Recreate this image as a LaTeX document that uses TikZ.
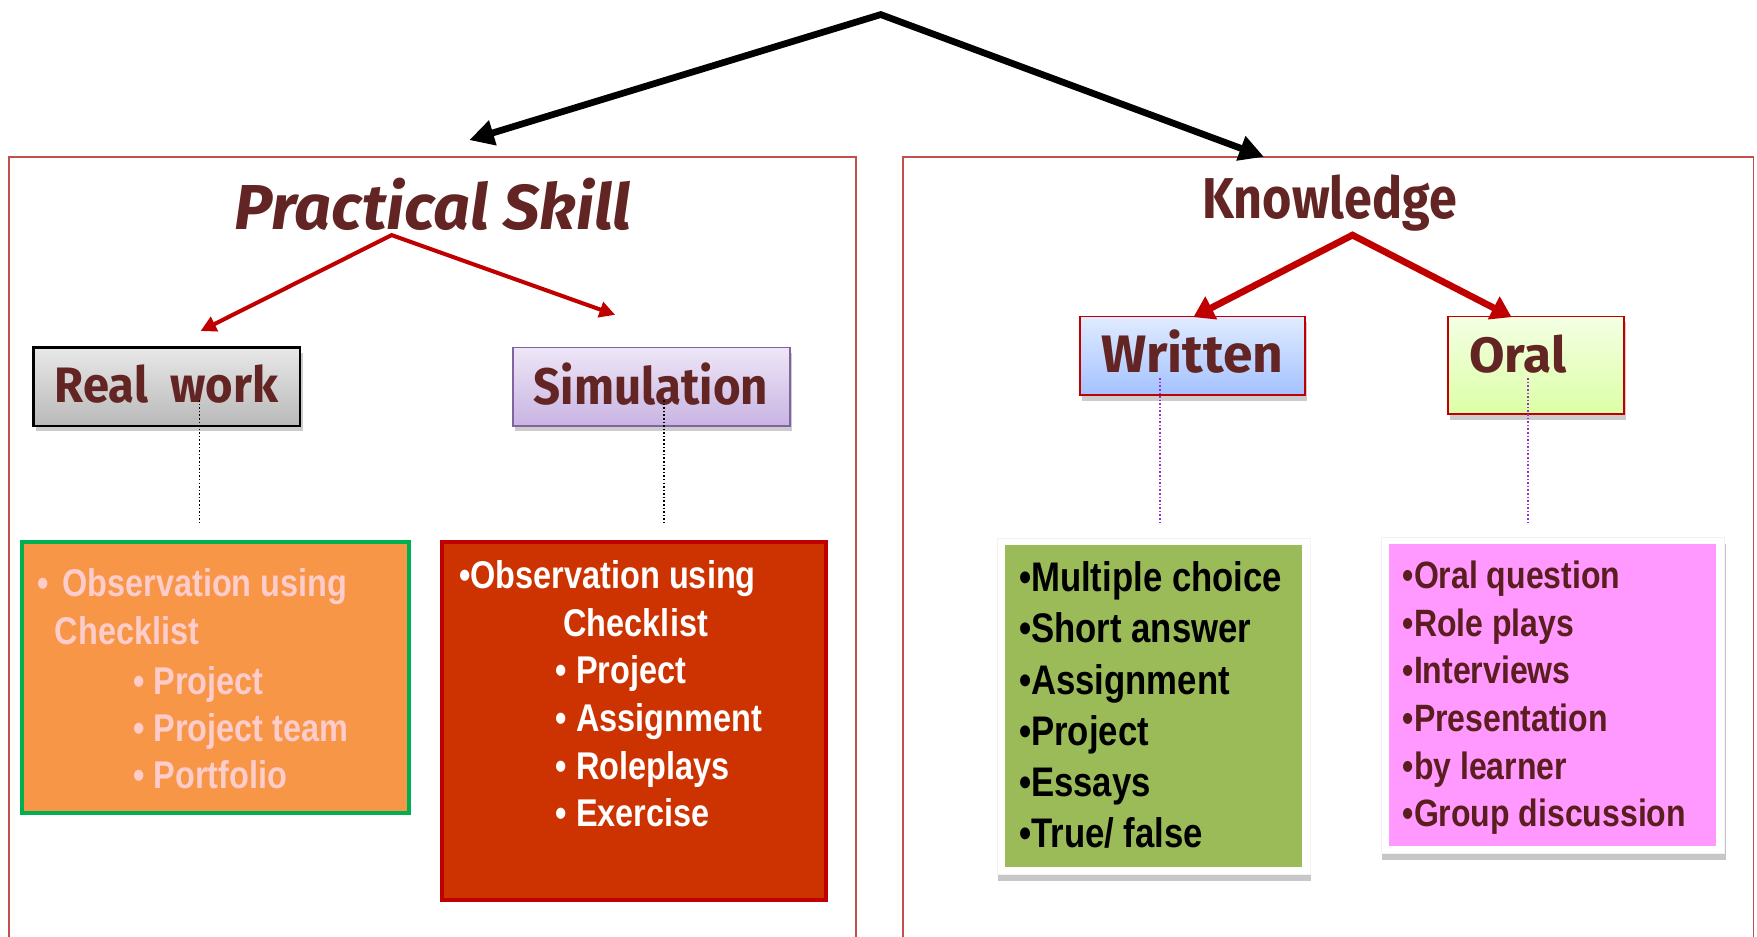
\documentclass[tikz,border=0pt]{standalone}
\usepackage{fontspec}
\usepackage{graphicx}
\setmainfont{Liberation Sans}
\newfontfamily\bodyfont[FakeStretch=0.84]{Liberation Sans}
\newfontfamily\headfont{Fira Sans}
\usetikzlibrary{arrows.meta,shadows}
\definecolor{headbrown}{HTML}{632523}
\definecolor{framered}{HTML}{C0504D}
\definecolor{arrowred}{HTML}{C00000}
\definecolor{orangefill}{HTML}{F79646}
\definecolor{greenedge}{HTML}{00B050}
\definecolor{pinktext}{HTML}{FFCCCC}
\definecolor{rustfill}{HTML}{CC3300}
\definecolor{olivefill}{HTML}{9BBB59}
\definecolor{pinkfill}{HTML}{FF99FF}
\definecolor{violetedge}{HTML}{8064A2}
\definecolor{dotviolet}{HTML}{9933CC}
\definecolor{darktext}{HTML}{5A1E1E}
\newcommand\fitto[4]{\resizebox{#1}{#2}{\smash{#4}\vphantom{#3}}}
\tikzset{
  frameline/.style={draw=framered, line width=0.7pt},
  bigarrow/.style={line width=3pt, line join=miter, black,
    {Triangle[length=11pt,width=11pt]}-{Triangle[length=11pt,width=11pt]}},
  thinred/.style={line width=1.8pt, line join=miter, arrowred,
    {Triangle[length=7pt,width=7pt]}-{Triangle[length=7pt,width=7pt]}},
  thickred/.style={line width=3pt, line join=miter, arrowred,
    {Triangle[length=9pt,width=11pt]}-{Triangle[length=9pt,width=11pt]}},
  headtxt/.style={inner sep=0pt, anchor=base west, text=headbrown, font=\headfont\bfseries},
  headbox/.style={rectangle, inner sep=0pt, anchor=center,
    drop shadow={shadow xshift=1pt, shadow yshift=-2.5pt, opacity=0.2, fill=black}},
  cbox/.style={rectangle, inner sep=0pt, anchor=north west},
  line/.style={inner sep=0pt, anchor=base west, font=\bodyfont\bfseries\fontsize{17.25pt}{20pt}\selectfont},
  gline/.style={line, font=\bodyfont\bfseries\fontsize{18.45pt}{21pt}\selectfont, text=black},
  pline/.style={line, font=\bodyfont\bfseries\fontsize{17pt}{20pt}\selectfont, text=darktext},
  dotblack/.style={black, line width=0.8pt, dash pattern=on 0.7pt off 0.9pt},
  dotpurple/.style={dotviolet, line width=0.8pt, dash pattern=on 0.7pt off 0.9pt},
}
\begin{document}
\begin{tikzpicture}[x=0.5pt,y=-0.5pt]
\useasboundingbox (0,0) rectangle (1568,836);
\fill[white] (0,0) rectangle (1568,836);

% big frames
\draw[frameline] (8,838) -- (8,140) -- (764,140) -- (764,838);
\draw[frameline] (806,838) -- (806,140) -- (1565,140) -- (1565,838);

% black top arrows
\coordinate (topApex) at (786,13);
\coordinate (leftTip) at (418.8,125);
\coordinate (rightTip) at (1128,140);
\draw[bigarrow] (leftTip) -- (topApex) -- (rightTip);

% titles
\node[headtxt] (ps) at (209,205) {\fitto{177pt}{21.5pt}{l}{\itshape Practical Skill}};
\node[headtxt] (kn) at (1072.4,195) {\fitto{113.6pt}{19.5pt}{l}{Knowledge}};

% header boxes
\node[headbox, draw=black, line width=1pt, top color=gray!18, bottom color=gray!55,
  minimum width=119pt, minimum height=34.85pt] (rw) at (149,345) {};
\node[headbox, draw=violetedge, line width=0.8pt, top color={rgb,255:red,238;green,230;blue,247},
  bottom color={rgb,255:red,200;green,180;blue,226},
  minimum width=123.5pt, minimum height=34.85pt] (sim) at (581.5,345) {};
\node[headbox, draw=arrowred, line width=0.8pt, top color={rgb,255:red,224;green,235;blue,255},
  bottom color={rgb,255:red,164;green,194;blue,255},
  minimum width=100.4pt, minimum height=35pt] (wr) at (1064.4,317.5) {};
\node[headbox, draw=arrowred, line width=0.8pt, top color={rgb,255:red,244;green,255;blue,228},
  bottom color={rgb,255:red,220;green,255;blue,166},
  minimum width=78.6pt, minimum height=43.5pt] (or) at (1370.6,326) {};

\node[headtxt] (rwT) at (48.6,359.5) {\fitto{99.7pt}{16.85pt}{l}{Real\ \ work}};
\node[headtxt] (simT) at (476,360.6) {\fitto{104.5pt}{17.4pt}{l}{Simulation}};
\node[headtxt] (wrT) at (982.6,332.6) {\fitto{81.1pt}{16.3pt}{W}{Written}};
\node[headtxt] (orT) at (1310.6,332.6) {\fitto{43.4pt}{16.8pt}{l}{Oral}};

% red arrows
\coordinate (psApex) at (349.5,209.8);
\coordinate (rwTip) at (179,295.4);
\coordinate (simTip) at (549,281);
\draw[thinred] (rwTip) -- (psApex) -- (simTip);
\coordinate (knApex) at (1207,209.8);
\coordinate (wrTip) at (1065,283);
\coordinate (orTip) at (1349,283);
\draw[thickred] (wrTip) -- (knApex) -- (orTip);

% dotted connectors
\coordinate (rwD) at (178,357);   \coordinate (rwE) at (178,467);
\coordinate (simD) at (592.4,357); \coordinate (simE) at (592.4,467);
\coordinate (wrD) at (1035,337.5); \coordinate (wrE) at (1035,467);
\coordinate (orD) at (1363.5,337.5); \coordinate (orE) at (1363.5,467);
\draw[dotblack] (rwD) -- (rwE);
\draw[dotblack] (simD) -- (simE);
\draw[dotpurple] (wrD) -- (wrE);
\draw[dotpurple] (orD) -- (orE);

% content boxes
\node[cbox, fill=orangefill, draw=greenedge, line width=1.8pt,
  minimum width=172.7pt, minimum height=121pt] (obsA) at (17.8,481.8) {};
\node[cbox, fill=rustfill, draw=arrowred, line width=1.8pt,
  minimum width=171pt, minimum height=159.5pt] (obsB) at (393,482) {};
\node[cbox, fill=white, draw=gray!10, line width=0.4pt,
  drop shadow={shadow xshift=0.5pt, shadow yshift=-3pt, opacity=0.22, fill=black},
  minimum width=139.7pt, minimum height=150pt] (wfr) at (889.5,480) {};
\node[cbox, fill=olivefill, minimum width=132.45pt, minimum height=143.55pt] (wlist) at (896.7,486.4) {};
\node[cbox, fill=white, draw=gray!10, line width=0.4pt,
  drop shadow={shadow xshift=0.5pt, shadow yshift=-3pt, opacity=0.22, fill=black},
  minimum width=153.3pt, minimum height=141.25pt] (ofr) at (1232,479) {};
\node[cbox, fill=pinkfill, minimum width=146.05pt, minimum height=134.75pt] (olist) at (1239.2,485.5) {};

% orange box text
\node[line, text=pinktext] (a1) at (33.5,532) {•\hspace{5.8pt}Observation using};
\node[line, text=pinktext] (a2) at (48.5,575.6) {Checklist};
\node[line, text=pinktext] (a3) at (118.5,619.4) {• Project};
\node[line, text=pinktext] (a4) at (118.5,662) {• Project team};
\node[line, text=pinktext] (a5) at (118.5,704) {• Portfolio};

% red box text
\node[line, text=white] (b1) at (409.5,525) {•Observation using};
\node[line, text=white] (b2) at (502.5,567.6) {Checklist};
\node[line, text=white] (b3) at (495.5,610.4) {• Project};
\node[line, text=white] (b4) at (495.5,653) {• Assignment};
\node[line, text=white] (b5) at (495.5,695.5) {• Roleplays};
\node[line, text=white] (b6) at (495.5,738) {• Exercise};

% green box text
\node[gline] (c1) at (909,528) {•Multiple choice};
\node[gline] (c2) at (909,573.6) {•Short answer};
\node[gline] (c3) at (909,619.4) {•Assignment};
\node[gline] (c4) at (909,665) {•Project};
\node[gline] (c5) at (909,711) {•Essays};
\node[gline] (c6) at (909,756.5) {•True/ false};

% pink box text
\node[pline] (d1) at (1251.5,525) {•Oral question};
\node[pline] (d2) at (1251.5,568) {•Role plays};
\node[pline] (d3) at (1251.5,610.4) {•Interviews};
\node[pline] (d4) at (1251.5,653) {•Presentation};
\node[pline] (d5) at (1251.5,695.5) {•by learner};
\node[pline] (d6) at (1251.5,737.8) {•Group discussion};
\end{tikzpicture}
\end{document}
